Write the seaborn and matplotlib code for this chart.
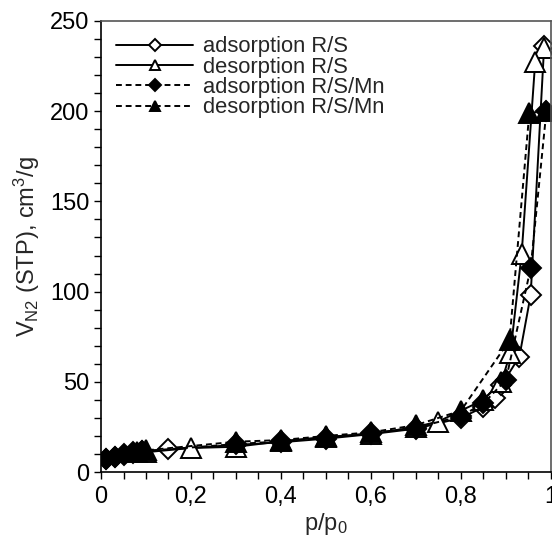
import numpy as np
import pandas as pd
import seaborn as sns
import matplotlib.pyplot as plt
from matplotlib.ticker import MultipleLocator, FuncFormatter

# isotherm data
ads_rs_x = [0.01, 0.03, 0.05, 0.07, 0.09, 0.15, 0.3, 0.4, 0.5, 0.6, 0.7, 0.8, 0.85, 0.875, 0.89, 0.93, 0.955, 0.985]
ads_rs_y = [7, 8.5, 9.5, 10.5, 11.5, 12.6, 15, 16.5, 18.5, 21, 24, 30, 36, 41, 48, 64, 98, 236]

des_rs_x = [0.985, 0.965, 0.935, 0.91, 0.89, 0.85, 0.75, 0.7, 0.6, 0.5, 0.4, 0.3, 0.2, 0.1]
des_rs_y = [235, 227, 121, 66, 50, 40, 28, 25, 21, 19.5, 17, 14, 13.3, 11]

ads_mn_x = [0.01, 0.03, 0.05, 0.07, 0.09, 0.3, 0.4, 0.5, 0.6, 0.7, 0.8, 0.85, 0.9, 0.955, 0.99]
ads_mn_y = [7, 8.5, 10, 11, 11.5, 15.5, 17, 19, 21.5, 24.5, 31, 38, 51, 113, 200]

des_mn_x = [0.99, 0.952, 0.908, 0.8, 0.7, 0.6, 0.5, 0.4, 0.3, 0.1, 0.08]
des_mn_y = [200, 199, 73, 34, 26, 22, 20, 17.7, 16.8, 12, 11]

sns.set_style("ticks")
plt.rcParams['font.family'] = ['Liberation Sans', 'DejaVu Sans']
plt.rcParams['mathtext.fontset'] = 'custom'
plt.rcParams['mathtext.rm'] = 'Liberation Sans'
plt.rcParams['mathtext.it'] = 'Liberation Sans'

fig = plt.figure(figsize=(5.52, 5.37), dpi=100)
ax = fig.add_axes([0.183, 0.121, 0.815, 0.84])

series = [
    (ads_rs_x, ads_rs_y, 'D', 'white', '-', 'adsorption R/S', 10.5),
    (des_rs_x, des_rs_y, '^', 'white', '-', 'desorption R/S', 14),
    (ads_mn_x, ads_mn_y, 'D', 'black', '--', 'adsorption R/S/Mn', 10.5),
    (des_mn_x, des_mn_y, '^', 'black', '--', 'desorption R/S/Mn', 14),
]
for xs, ys, mk, fc, ls, lab, ms in series:
    sns.lineplot(x=xs, y=ys, ax=ax, sort=False, estimator=None, color='black',
                 linestyle=ls, linewidth=1.4, marker=mk, markersize=ms,
                 markerfacecolor=fc, markeredgecolor='black', markeredgewidth=1.4,
                 label=lab, dashes=False)
for line in ax.get_lines():
    if line.get_linestyle() == '--':
        line.set_dashes([3, 2])

ax.set_xlim(0, 1)
ax.set_ylim(0, 250)
ax.xaxis.set_major_locator(MultipleLocator(0.2))
ax.xaxis.set_minor_locator(MultipleLocator(0.05))
ax.yaxis.set_major_locator(MultipleLocator(50))
ax.yaxis.set_minor_locator(MultipleLocator(10))
ax.xaxis.set_major_formatter(FuncFormatter(lambda v, p: ('%g' % round(v, 2)).replace('.', ',')))
ax.tick_params(which='both', direction='out', length=5, width=1, labelsize=17, colors='black')
ax.tick_params(axis='x', pad=5)

for s in ['left', 'bottom']:
    ax.spines[s].set_color('black')
    ax.spines[s].set_linewidth(1.2)
for s in ['top', 'right']:
    ax.spines[s].set_color('#555555')
    ax.spines[s].set_linewidth(1.2)

ax.set_xlabel('p/p$_0$', fontsize=17, labelpad=2)
ax.set_ylabel('V$_{\\rm N2}$ (STP), cm$^3$/g', fontsize=17, labelpad=6)

leg = ax.legend(loc='upper left', frameon=False, fontsize=15.8, handlelength=3.5,
                markerscale=0.55, labelspacing=-0.03, handletextpad=0.45,
                borderaxespad=0.3, bbox_to_anchor=(0.0, 1.0))

fig.savefig('out.png', dpi=100)
